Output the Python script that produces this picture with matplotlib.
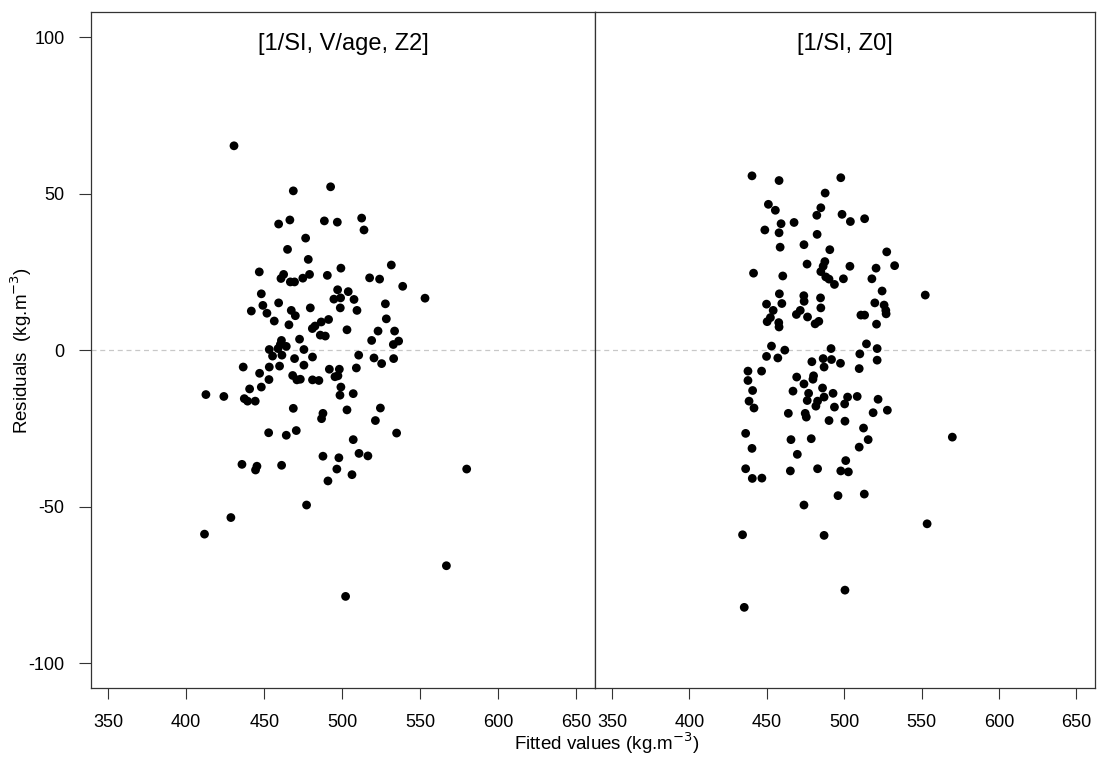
import numpy as np
import matplotlib.pyplot as plt

plt.rcParams['font.family'] = ['Liberation Sans', 'DejaVu Sans']
plt.rcParams['axes.unicode_minus'] = False

# panel titles
titles = ["[1/SI, V/age, Z2]", "[1/SI, Z0]"]

# left panel: fitted values and residuals
fit_a = [430.6, 468.6, 492.5, 459.2, 466.4, 488.5, 496.8, 512.4, 513.9, 476.5,
         464.9, 478.2, 446.8, 462.4, 460.7, 466.7, 469.4, 474.7, 479.0, 490.4,
         499.1, 517.5, 523.9, 531.4, 538.7, 448.1, 497.0, 503.8, 494.6, 498.9,
         507.5, 441.7, 449.1, 451.7, 456.4, 459.2, 467.3, 469.9, 465.8, 479.5,
         498.7, 509.4, 527.6, 528.2, 480.8, 482.5, 486.5, 491.2, 485.9, 489.1,
         503.0, 522.9, 518.8, 533.5, 536.1, 532.7, 472.6, 461.0, 460.3, 464.1,
         453.2, 458.8, 475.4, 455.3, 461.3, 469.4, 480.9, 510.5, 520.3, 532.9,
         525.2, 436.5, 453.2, 459.8, 475.4, 447.0, 453.0, 468.2, 470.9, 473.1,
         480.9, 485.0, 491.7, 498.1, 495.3, 497.2, 509.0, 440.6, 448.1, 412.6,
         424.1, 437.2, 439.3, 444.2, 499.1, 498.5, 507.0, 468.6, 487.6, 486.7,
         503.0, 524.4, 521.2, 452.8, 464.1, 470.5, 534.8, 507.0, 487.6, 497.8,
         510.7, 516.4, 435.7, 445.3, 444.4, 461.1, 496.5, 506.2, 490.8, 477.1,
         428.6, 411.7, 502.1, 553.0, 579.7, 566.7]
res_a = [65.3, 50.9, 52.2, 40.3, 41.6, 41.3, 40.9, 42.2, 38.4, 35.8,
         32.2, 29.0, 25.0, 24.2, 22.9, 21.8, 21.8, 23.0, 24.2, 23.9,
         26.2, 23.1, 22.7, 27.2, 20.4, 18.0, 19.3, 18.7, 16.3, 16.7,
         16.2, 12.5, 14.3, 11.8, 9.3, 15.1, 12.7, 11.0, 8.1, 13.5,
         13.5, 12.7, 14.8, 10.0, 6.9, 7.7, 9.0, 9.8, 4.8, 4.5,
         6.5, 6.1, 3.1, 6.1, 2.9, 1.8, 3.5, 3.1, 1.8, 1.2,
         0.2, 0.5, 0.2, -1.9, -1.6, -2.7, -2.2, -1.6, -2.5, -2.7,
         -4.3, -5.4, -5.4, -5.1, -4.8, -7.4, -9.4, -8.1, -9.5, -9.3,
         -9.5, -9.7, -6.1, -6.1, -8.5, -8.2, -5.7, -12.4, -11.8, -14.2,
         -14.8, -15.5, -16.3, -16.3, -11.8, -14.4, -13.9, -18.6, -20.2, -21.9,
         -19.1, -18.5, -22.5, -26.4, -27.2, -25.7, -26.5, -28.6, -33.9, -34.4,
         -33.0, -33.8, -36.5, -37.1, -38.3, -36.8, -38.0, -39.8, -41.8, -49.5,
         -53.5, -58.8, -78.7, 16.6, -38.0, -68.9]

# right panel: fitted values and residuals
fit_b = [440.4, 457.9, 497.8, 487.7, 451.0, 455.5, 484.9, 482.3, 498.6, 504.0,
         513.2, 459.2, 467.6, 448.7, 457.9, 482.5, 458.6, 474.0, 490.7, 527.5,
         532.6, 476.0, 487.5, 486.4, 484.9, 488.1, 490.2, 493.7, 499.5, 503.7,
         441.4, 460.3, 520.6, 517.9, 524.5, 458.1, 449.8, 459.7, 473.9, 474.1,
         484.7, 484.9, 471.6, 469.1, 476.3, 454.1, 452.3, 450.2, 457.7, 457.9,
         481.2, 483.6, 510.8, 513.2, 519.8, 525.8, 526.9, 527.1, 520.9, 453.0,
         461.6, 491.5, 514.4, 449.8, 457.1, 521.3, 510.1, 521.3, 479.1, 486.4,
         491.8, 487.0, 497.6, 509.7, 437.8, 437.8, 446.6, 469.3, 474.0, 480.2,
         479.8, 466.9, 477.0, 476.1, 486.0, 487.0, 492.8, 482.8, 481.7, 493.7,
         500.3, 502.2, 508.4, 521.9, 518.7, 527.9, 440.8, 438.5, 441.7, 463.9,
         474.8, 475.5, 490.2, 500.5, 512.5, 436.3, 465.6, 478.7, 515.5, 509.7,
         440.4, 469.7, 501.0, 436.3, 440.6, 446.8, 465.2, 482.8, 497.8, 502.7,
         496.0, 513.0, 474.0, 434.3, 487.0, 500.5, 435.4, 552.4, 569.9, 553.6]
res_b = [55.7, 54.2, 55.1, 50.2, 46.6, 44.7, 45.5, 43.1, 43.4, 41.1,
         42.0, 40.4, 40.8, 38.4, 37.5, 37.0, 32.9, 33.7, 32.1, 31.4,
         27.0, 27.5, 28.3, 26.8, 25.1, 23.4, 22.7, 21.0, 22.8, 26.8,
         24.6, 23.7, 26.2, 22.8, 18.9, 18.0, 14.7, 14.9, 17.4, 15.6,
         16.7, 13.5, 12.7, 11.4, 10.6, 12.7, 10.4, 9.1, 8.8, 7.4,
         8.4, 9.2, 11.2, 11.2, 15.1, 14.4, 12.7, 11.6, 8.3, 1.3,
         0.0, 0.5, 2.0, -2.0, -2.5, 0.5, -1.2, -3.2, -3.7, -2.7,
         -3.0, -5.4, -4.2, -5.9, -6.7, -9.7, -6.7, -8.6, -10.8, -8.2,
         -9.3, -13.1, -13.8, -16.1, -12.1, -15.0, -13.8, -16.3, -17.9, -18.2,
         -17.2, -15.0, -14.8, -15.7, -20.0, -19.2, -12.9, -16.3, -18.5, -20.2,
         -20.2, -21.4, -22.5, -22.7, -24.9, -26.6, -28.6, -28.3, -28.6, -31.0,
         -31.4, -33.3, -35.3, -37.9, -41.0, -40.9, -38.6, -37.9, -38.6, -38.9,
         -46.5, -46.0, -49.5, -59.0, -59.2, -76.7, -82.2, 17.6, -27.8, -55.5]

xticks = [350, 400, 450, 500, 550, 600, 650]
yticks = [-100, -50, 0, 50, 100]

fig = plt.figure(figsize=(10.97, 7.62), dpi=100)
ax1 = fig.add_axes([0.083, 0.097, 0.4595, 0.887])
ax2 = fig.add_axes([0.5425, 0.097, 0.4555, 0.887])

for ax, fx, rs, t in [(ax1, fit_a, res_a, titles[0]), (ax2, fit_b, res_b, titles[1])]:
    ax.axhline(0, color='#c8c8c8', lw=0.9, ls=(0, (4, 3)), zorder=1)
    ax.scatter(fx, rs, s=40, color='black', edgecolors='none', zorder=3)
    ax.set_xlim(339, 662)
    ax.set_ylim(-108, 108)
    ax.set_xticks(xticks)
    ax.tick_params(axis='x', direction='out', length=8, width=0.8,
                   labelsize=13, pad=11, color='#333333')
    ax.text(0.5, 0.953, t, transform=ax.transAxes, ha='center', va='center',
            fontsize=17)
    for s in ax.spines.values():
        s.set_color('#333333')
        s.set_linewidth(0.9)

ax1.set_yticks(yticks)
ax1.tick_params(axis='y', direction='out', length=9, width=0.8,
                labelsize=13, pad=10, color='#333333')
ax2.set_yticks([])

ax1.set_ylabel('Residuals  (kg.m$^{-3}$)', fontsize=13.5)
ax1.yaxis.set_label_coords(-0.113, 0.5)
fig.text(0.553, 0.008, 'Fitted values (kg.m$^{-3}$)', ha='center', va='bottom',
         fontsize=13.5)

fig.savefig('out.png', dpi=100)
